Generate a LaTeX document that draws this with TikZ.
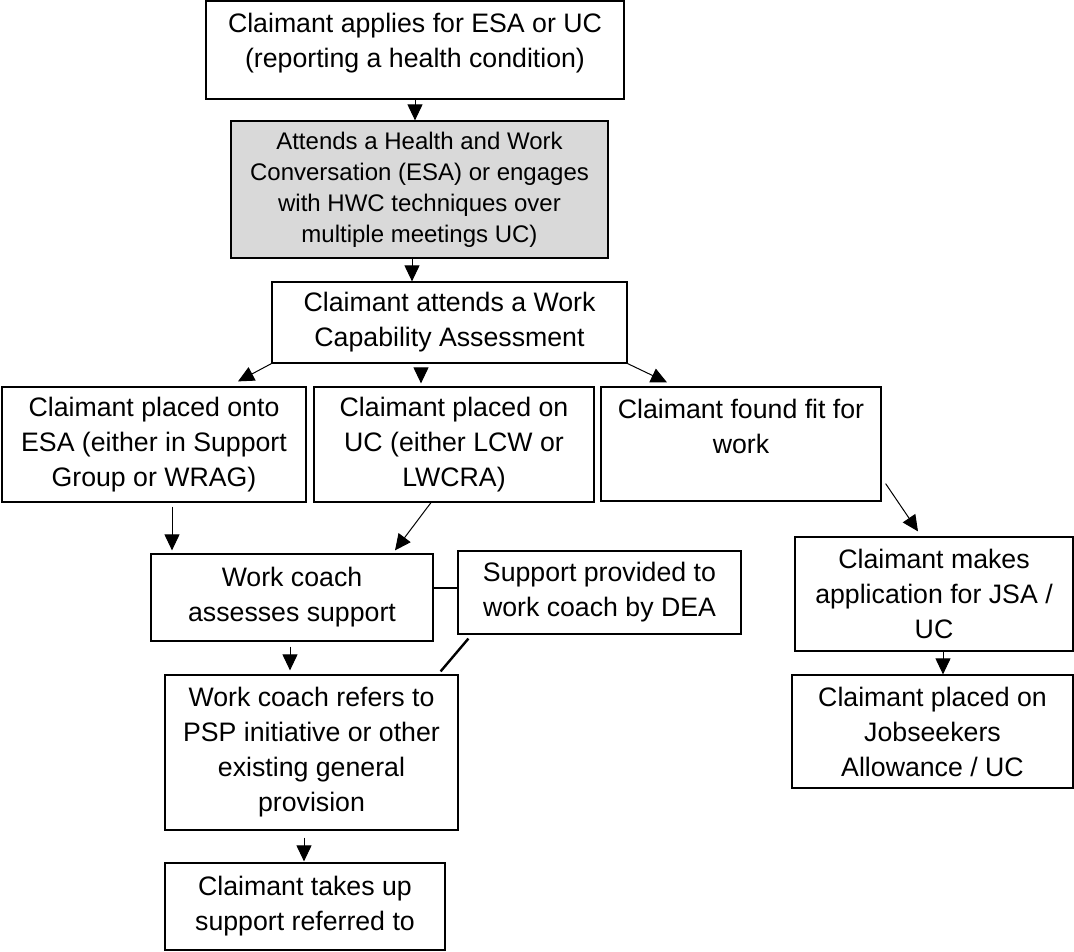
\documentclass[tikz,border=0pt]{standalone}
\usepackage{fontspec}
\setmainfont{Liberation Sans}
\usetikzlibrary{positioning, calc, arrows.meta}
\tikzset{>={Triangle[length=16pt,width=15pt]}}

\begin{document}
\begin{tikzpicture}
    [
        x=1pt, y=1pt,
        white_box/.style={draw=black, line width=1.2pt, fill=white, align=center, inner sep=0pt, font=\fontsize{26.7}{35}\selectfont},
        grey_box/.style={white_box, fill=gray!30, font=\fontsize{24}{31}\selectfont},
        flow/.style={->, line width=1pt},
        link/.style={line width=2.4pt},
    ]
  \useasboundingbox (0,0) rectangle (1074,951);

  \node[white_box, minimum width=418pt, minimum height=98pt] (apply) at (415,901) {Claimant applies for ESA or UC\\(reporting a health condition)\\[-26pt]\strut};
  \node[grey_box, minimum width=377pt, minimum height=137pt] (hwc) at (419.5,761.5) {Attends a Health and Work\\Conversation (ESA) or engages\\with HWC techniques over\\multiple meetings UC)};
  \node[white_box, minimum width=355pt, minimum height=81pt] (wca) at (449.5,628.5) {Claimant attends a Work\\Capability Assessment};

  \node[white_box, minimum width=304pt, minimum height=115pt] (esa) at (154,506.5) {Claimant placed onto\\ESA (either in Support\\Group or WRAG)};
  \node[white_box, minimum width=280pt, minimum height=115pt] (ucl) at (454,506.5) {Claimant placed on\\UC (either LCW or\\LWCRA)};
  \node[white_box, minimum width=280pt, minimum height=114pt] (fit) at (741,507) {Claimant found fit for\\work\\[-10pt]\strut};

  \node[white_box, minimum width=282pt, minimum height=87pt] (coach) at (292,353.5) {Work coach\\assesses support};
  \node[white_box, minimum width=283pt, minimum height=83pt] (dea) at (599.5,358.5) {Support provided to\\work coach by DEA};
  \node[white_box, minimum width=293pt, minimum height=155pt] (refer) at (311.5,198.5) {Work coach refers to\\PSP initiative or other\\existing general\\provision};
  \node[white_box, minimum width=280pt, minimum height=87pt] (takeup) at (305,44.5) {Claimant takes up\\support referred to};

  \node[white_box, minimum width=278pt, minimum height=114pt] (jsa) at (934,357) {Claimant makes\\application for JSA /\\UC};
  \node[white_box, minimum width=281pt, minimum height=113pt] (jsp) at (932.5,219.5) {Claimant placed on\\Jobseekers\\Allowance / UC};

  \draw[flow] (apply.south) -- (apply.south |- hwc.north);
  \draw[flow] ([xshift=-7.5pt]hwc.south) -- ([xshift=-7.5pt]hwc.south |- wca.north);
  \draw[flow] (wca.south west) -- ([shift={(84,5)}]esa.north);
  \draw[flow] ([shift={(-28.5,-4)}]wca.south) -- ([shift={(-33,3)}]ucl.north);
  \draw[flow] (wca.south east) -- ([shift={(-74,4)}]fit.north);

  \draw[flow] ([shift={(18,-4)}]esa.south) -- ([shift={(-120,3)}]coach.north);
  \draw[flow] ([xshift=-23pt]ucl.south) -- ([shift={(103,3)}]coach.north);
  \draw[flow] ([shift={(4,18)}]fit.south east) -- ([shift={(-16,5)}]jsa.north);
  \draw[flow] ([xshift=9pt]jsa.south) -- ([xshift=9pt]jsa.south |- jsp.north);

  \draw[link] ([yshift=9.5pt]coach.east) -- ([yshift=9.5pt]coach.east -| dea.west);
  \draw[link] ([shift={(11,-4)}]dea.south west) -- ([shift={(-18,3)}]refer.north east);

  \draw[flow] ([shift={(-2,-5)}]coach.south) -- ([shift={(-21.5,4)}]refer.north);
  \draw[flow] ([shift={(-7.5,-7)}]refer.south) -- ([shift={(-1,1)}]takeup.north);
\end{tikzpicture}
\end{document}
